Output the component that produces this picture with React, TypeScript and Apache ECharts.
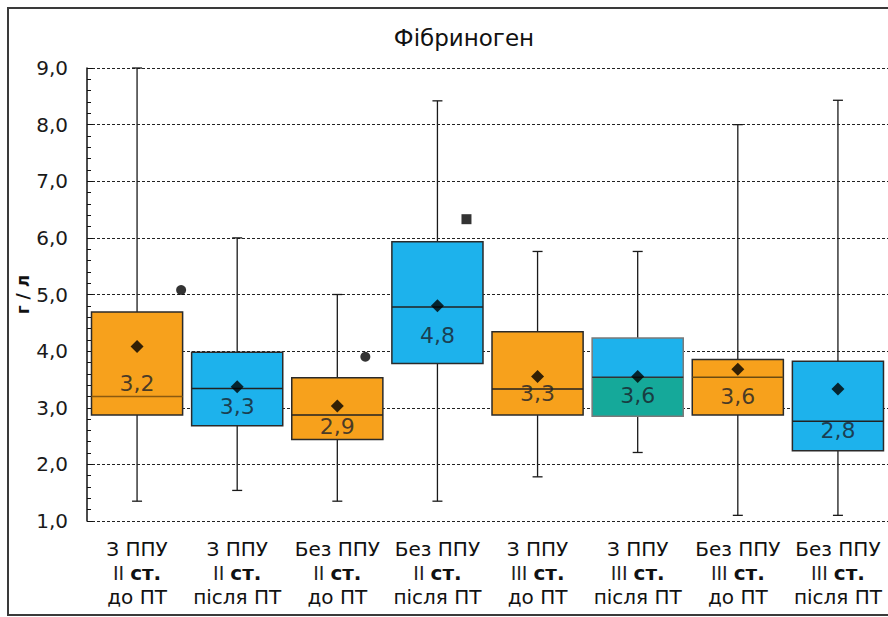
import React, { useEffect, useRef } from "react";
import * as echarts from "echarts";

const title = "Фібриноген";
const yName = "г / л";
const categories: string[][] = [
  ["З ППУ", "II ст.", "до ПТ"],
  ["З ППУ", "II ст.", "після ПТ"],
  ["Без ППУ", "II ст.", "до ПТ"],
  ["Без ППУ", "II ст.", "після ПТ"],
  ["З ППУ", "III ст.", "до ПТ"],
  ["З ППУ", "III ст.", "після ПТ"],
  ["Без ППУ", "III ст.", "до ПТ"],
  ["Без ППУ", "III ст.", "після ПТ"],
];
// whisker low, Q1, median, Q3, whisker high
const lows = [1.35, 1.54, 1.35, 1.35, 1.78, 2.21, 1.1, 1.1];
const q1s = [2.87, 2.68, 2.44, 3.78, 2.87, 2.85, 2.87, 2.24];
const medians = [3.2, 3.34, 2.87, 4.78, 3.33, 3.54, 3.54, 2.76];
const q3s = [4.69, 3.98, 3.53, 5.93, 4.34, 4.23, 3.85, 3.82];
const highs = [9.0, 6.0, 5.0, 8.42, 5.76, 5.76, 8.0, 8.43];
const means = [4.08, 3.37, 3.03, 4.8, 3.55, 3.55, 3.68, 3.33];
const medianLabels = [3.2, 3.3, 2.9, 4.8, 3.3, 3.6, 3.6, 2.8];
const medianLabelY = [3.43, 3.02, 2.67, 4.27, 3.25, 3.22, 3.19, 2.59];
// outliers: [category position, value]
const outlierCircles = [
  [0.44, 5.08],
  [2.28, 3.9],
];
const outlierSquares = [[3.29, 6.33]];
const yTicks = [1, 2, 3, 4, 5, 6, 7, 8, 9];

const ORANGE = "#F7A11C";
const BLUE = "#1DB2EC";
const TEAL = "#15A99A";
const upperFill = [ORANGE, BLUE, ORANGE, BLUE, ORANGE, BLUE, ORANGE, BLUE];
const lowerFill = [ORANGE, BLUE, ORANGE, BLUE, ORANGE, TEAL, ORANGE, BLUE];
const borderColor = ["#2a2a2a", "#2a2a2a", "#2a2a2a", "#2a2a2a", "#2a2a2a", "#7a7a7a", "#2a2a2a", "#2a2a2a"];
const medianColor = ["#8a5a10", "#222", "#222", "#222", "#222", "#333", "#6a4a10", "#222"];

const FONT = "DejaVu Sans";
const fmt = (v: number) => v.toFixed(1).replace(".", ",");

export default function App() {
  const ref = useRef<HTMLDivElement>(null);
  useEffect(() => {
    if (!ref.current) return;
    const chart = echarts.init(ref.current, undefined, { renderer: "svg" });
    const boxData = categories.map((_, i) => [i, lows[i], q1s[i], medians[i], q3s[i], highs[i]]);
    const option: any = {
      animation: false,
      backgroundColor: "#fff",
      textStyle: { fontFamily: FONT },
      grid: { left: 87, top: 68, width: 808, height: 453, containLabel: false },
      graphic: [
        {
          type: "rect",
          shape: { x: 8, y: 8, width: 1000, height: 607 },
          style: { fill: "none", stroke: "#3a3a3a", lineWidth: 2 },
          silent: true,
          z: -10,
        },
        {
          type: "text",
          x: 464,
          y: 38,
          style: {
            text: title,
            fontSize: 23,
            fontFamily: FONT,
            fill: "#111",
            align: "center",
            verticalAlign: "middle",
          },
        },
      ],
      xAxis: [
        {
          type: "category",
          data: categories.map((c) => c.join("\n")),
          axisLine: { show: false },
          axisTick: { show: false },
          splitLine: { show: false },
          axisLabel: {
            interval: 0,
            margin: 16,
            formatter: (v: string) => {
              const [a, b, c] = v.split("\n");
              const [roman, st] = b.split(" ");
              return `{n|${a}}\n{r|${roman}\u00a0}{b|${st}}\n{n|${c}}`;
            },
            rich: {
              n: { fontSize: 20, fontFamily: FONT, color: "#111", lineHeight: 24 },
              r: { fontSize: 19, fontFamily: FONT, color: "#222", lineHeight: 24 },
              b: { fontSize: 20, fontFamily: FONT, color: "#111", fontWeight: "bold", lineHeight: 24 },
            },
          },
        },
        { type: "value", min: -0.5, max: 7.5, show: false },
      ],
      yAxis: {
        type: "value",
        min: yTicks[0],
        max: yTicks[yTicks.length - 1],
        interval: 1,
        name: yName,
        nameLocation: "middle",
        nameGap: 56,
        nameMoveOverlap: false,
        nameTextStyle: { fontSize: 17, fontFamily: FONT, fontWeight: "bold", color: "#111" },
        axisLine: { show: true, onZero: false, lineStyle: { color: "#111", width: 1.5 } },
        axisTick: { show: true, inside: true, length: 6, lineStyle: { color: "#111" } },
        minorTick: { show: true, splitNumber: 5, length: 4, lineStyle: { color: "#111" } },
        splitLine: { show: true, lineStyle: { type: [3, 2], color: "#222", width: 1 } },
        axisLabel: { formatter: (v: number) => fmt(v), fontSize: 20, fontFamily: FONT, color: "#1a1a1a", margin: 19 },
      },
      series: [
        {
          type: "custom",
          xAxisIndex: 0,
          encode: { x: 0, y: [1, 2, 3, 4, 5] },
          data: boxData,
          z: 2,
          renderItem: (params: any, api: any) => {
            const i = api.value(0);
            const pLow = api.coord([i, api.value(1)]);
            const pQ1 = api.coord([i, api.value(2)]);
            const pMed = api.coord([i, api.value(3)]);
            const pQ3 = api.coord([i, api.value(4)]);
            const pHigh = api.coord([i, api.value(5)]);
            const x = pLow[0];
            const bw = api.size([1, 0])[0] * 0.91;
            const cap = 10;
            const ws = { stroke: "#1a1a1a", lineWidth: 1.3 };
            return {
              type: "group",
              children: [
                { type: "line", shape: { x1: x, y1: pQ3[1], x2: x, y2: pHigh[1] }, style: ws },
                { type: "line", shape: { x1: x - cap / 2, y1: pHigh[1], x2: x + cap / 2, y2: pHigh[1] }, style: ws },
                { type: "line", shape: { x1: x, y1: pQ1[1], x2: x, y2: pLow[1] }, style: ws },
                { type: "line", shape: { x1: x - cap / 2, y1: pLow[1], x2: x + cap / 2, y2: pLow[1] }, style: ws },
                {
                  type: "rect",
                  shape: { x: x - bw / 2, y: pQ3[1], width: bw, height: pMed[1] - pQ3[1] },
                  style: { fill: upperFill[i] },
                },
                {
                  type: "rect",
                  shape: { x: x - bw / 2, y: pMed[1], width: bw, height: pQ1[1] - pMed[1] },
                  style: { fill: lowerFill[i] },
                },
                {
                  type: "rect",
                  shape: { x: x - bw / 2, y: pQ3[1], width: bw, height: pQ1[1] - pQ3[1] },
                  style: { fill: "none", stroke: borderColor[i], lineWidth: 1.5 },
                },
                {
                  type: "line",
                  shape: { x1: x - bw / 2, y1: pMed[1], x2: x + bw / 2, y2: pMed[1] },
                  style: { stroke: medianColor[i], lineWidth: 1.5 },
                },
              ],
            };
          },
        },
        {
          type: "scatter",
          xAxisIndex: 0,
          z: 5,
          symbol: "circle",
          symbolSize: 1,
          itemStyle: { color: "rgba(0,0,0,0)" },
          data: medianLabelY.map((y, i) => [i, y, medianLabels[i]]),
          label: {
            show: true,
            position: "inside",
            formatter: (p: any) => fmt(p.value[2]),
            fontSize: 22,
            fontFamily: FONT,
            color: "#1a1f2a",
          },
        },
        {
          type: "scatter",
          xAxisIndex: 0,
          z: 6,
          symbol: "diamond",
          symbolSize: 13,
          itemStyle: { color: "#000" },
          data: means.map((m, i) => [i, m]),
        },
        {
          type: "scatter",
          xAxisIndex: 1,
          z: 6,
          symbol: "circle",
          symbolSize: 10,
          itemStyle: { color: "#000" },
          data: outlierCircles,
        },
        {
          type: "scatter",
          xAxisIndex: 1,
          z: 6,
          symbol: "rect",
          symbolSize: 10,
          itemStyle: { color: "#000" },
          data: outlierSquares,
        },
      ],
    };
    chart.setOption(option);
    return () => chart.dispose();
  }, []);
  return (
    <div
      ref={ref}
      style={{ position: "absolute", left: 0, top: 0, width: 888, height: 617, background: "#fff" }}
    />
  );
}
